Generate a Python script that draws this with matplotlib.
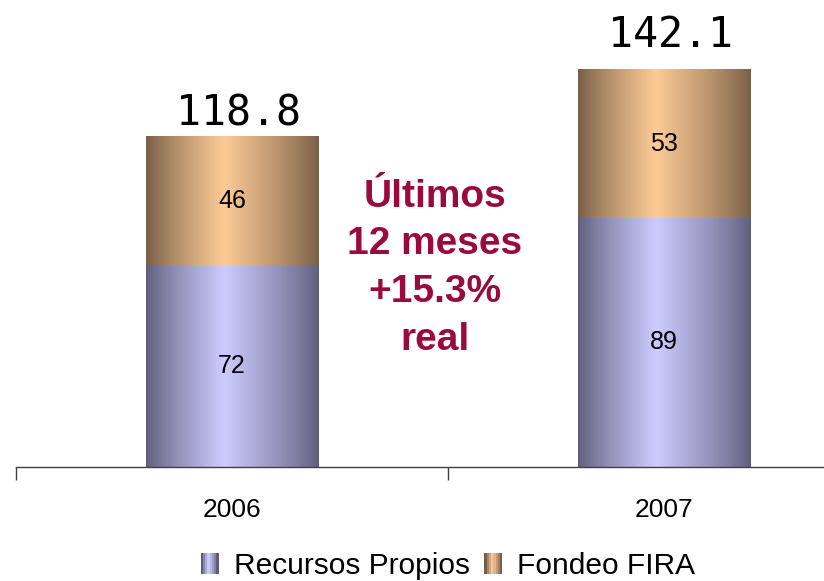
import numpy as np
import matplotlib
matplotlib.use('Agg')
import matplotlib.pyplot as plt
from matplotlib.patches import Rectangle
from matplotlib.legend_handler import HandlerBase

years = ['2006', '2007']
recursos = [72, 89]
fira = [46, 53]
totals = ['118.8', '142.1']
series_names = ['Recursos Propios', 'Fondeo FIRA']
note = 'Últimos\n12 meses\n+15.3%\nreal'

blue_dark, blue_light = np.array([0x5e, 0x5e, 0x7c]) / 255, np.array([0xcc, 0xcc, 0xff]) / 255
tan_dark, tan_light = np.array([0x78, 0x5e, 0x47]) / 255, np.array([0xfd, 0xcb, 0x96]) / 255


def gradient(dark, light, n=256, peak=0.45):
    t = np.linspace(0, 1, n)
    w = np.where(t < peak, t / peak, (1 - t) / (1 - peak))
    w = w ** 0.85
    cols = dark[None, :] + (light - dark)[None, :] * w[:, None]
    return cols[None, :, :]


class GradHandler(HandlerBase):
    def __init__(self, dark, light):
        super().__init__()
        self.dark, self.light = dark, light

    def create_artists(self, legend, orig_handle, xdescent, ydescent, width, height, fontsize, trans):
        g = gradient(self.dark, self.light, n=8)[0]
        arts = []
        step = width / len(g)
        for i, c in enumerate(g):
            r = Rectangle((-xdescent + i * step, -ydescent), step * 1.05, height,
                          facecolor=c, edgecolor='none', transform=trans)
            arts.append(r)
        return arts


plt.rcParams['font.family'] = ['Liberation Sans', 'DejaVu Sans']

fig = plt.figure(figsize=(8.24, 5.81), dpi=100)
ax = fig.add_axes([16 / 824, 114 / 581, 808 / 824, 467 / 581])

x = np.arange(len(years))
b1 = ax.bar(x, recursos, width=0.4, color='none', edgecolor='none')
b2 = ax.bar(x, fira, width=0.4, bottom=recursos, color='none', edgecolor='none')

for bars, (dk, lt) in [(b1, (blue_dark, blue_light)), (b2, (tan_dark, tan_light))]:
    for p in bars:
        x0, y0 = p.get_x(), p.get_y()
        ax.imshow(gradient(dk, lt), extent=[x0, x0 + p.get_width(), y0, y0 + p.get_height()],
                  aspect='auto', zorder=2, interpolation='bilinear')

for i in range(len(years)):
    ax.text(x[i], recursos[i] / 2, str(recursos[i]), ha='center', va='center', fontsize=18, zorder=3)
    ax.text(x[i], recursos[i] + fira[i] / 2, str(fira[i]), ha='center', va='center', fontsize=18, zorder=3)

label_off = [4, 8]
for i in range(len(years)):
    ax.text(x[i] + 0.015, recursos[i] + fira[i] + label_off[i], totals[i], ha='center', va='baseline',
            fontsize=30, family='DejaVu Sans Mono')

ax.text(0.47, 71, note, ha='center', va='center', fontsize=28, fontweight='bold',
        color='#9b0a3c', linespacing=1.42)

for s in ['top', 'right', 'left']:
    ax.spines[s].set_visible(False)
ax.spines['bottom'].set_color('#404040')
ax.spines['bottom'].set_linewidth(1)
ax.set_yticks([])
ax.set_xticks([-0.5, 0.5, 1.5])
ax.set_xticklabels([])
ax.tick_params(axis='x', which='major', length=9, width=1, color='#404040', direction='out')
ax.set_xticks(x, minor=True)
ax.set_xticklabels(years, minor=True, fontsize=19)
ax.tick_params(axis='x', which='minor', length=0, pad=22)

ax.set_xlim(-0.5, -0.5 + 808 / 432)
ax.set_ylim(0, 467 / 2.8)

h1 = Rectangle((0, 0), 1, 1)
h2 = Rectangle((0, 0), 1, 1)
fig.legend([h1, h2], series_names, loc='center', bbox_to_anchor=(448 / 824, 1 - 566 / 581),
           ncol=2, frameon=False, fontsize=21.5, handlelength=0.6, handleheight=0.7,
           handletextpad=0.5, columnspacing=0.5,
           handler_map={h1: GradHandler(blue_dark, blue_light), h2: GradHandler(tan_dark, tan_light)})

fig.savefig('out.png', dpi=100)
